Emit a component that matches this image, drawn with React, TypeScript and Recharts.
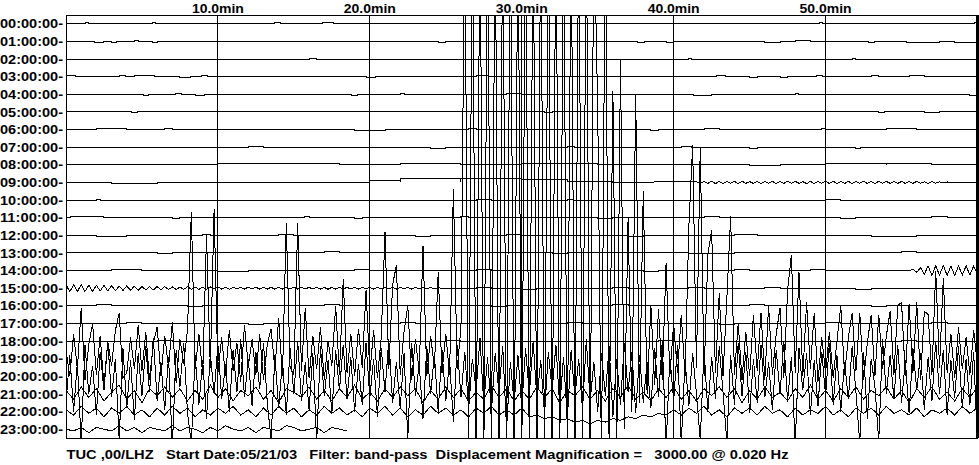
import { LineChart, Line, XAxis, YAxis, CartesianGrid, ReferenceLine } from 'recharts';

type Blip = [number, number, number]; // start min, end min, offset
type Wave = { start: number; step: number; values: number[] };

// one amplitude unit = a tenth of the spacing between two hour rows
const AMP = 0.1;

const hourLabels = [
  '00:00:00', '01:00:00', '02:00:00', '03:00:00', '04:00:00', '05:00:00',
  '06:00:00', '07:00:00', '08:00:00', '09:00:00', '10:00:00', '11:00:00',
  '12:00:00', '13:00:00', '14:00:00', '15:00:00', '16:00:00', '17:00:00',
  '18:00:00', '19:00:00', '20:00:00', '21:00:00', '22:00:00', '23:00:00',
];
const minuteTicks = [10, 20, 30, 40, 50];
const minuteLabels = ['10.0min', '20.0min', '30.0min', '40.0min', '50.0min'];
const footer = 'TUC ,00/LHZ   Start Date:05/21/03   Filter: band-pass  Displacement Magnification =   3000.00 @ 0.020 Hz';

// quiet hours: small steps off the baseline
const row00: Blip[] = [[1.3, 1.5, 0.6], [5.7, 5.9, 0.6], [13.7, 14.1, 0.6], [16.9, 17.6, 0.8], [49.6, 49.8, 0.6], [59.8, 60, 1]];
const row01: Blip[] = [[1.9, 2.5, -0.6], [3, 3.3, -0.5], [4.5, 4.8, 0.5], [5.7, 6, -0.5], [24.5, 25, -0.5], [37.6, 38.1, -0.6], [39.5, 40, -0.5], [46, 47, -0.5], [48, 49, 0.5], [52.8, 53.2, -0.6], [55.3, 57.5, -0.6], [58.5, 60, -0.5]];
const row02: Blip[] = [[3.2, 3.4, -0.5], [16, 16.5, 0.5], [41, 41.2, 0.5], [51.8, 52, 0.5]];
const row03: Blip[] = [[0, 0.6, 0.6], [3.5, 3.9, 0.5], [4.5, 5.8, 0.6], [7.5, 8.2, -0.5], [8.9, 9.3, 0.6], [19.8, 20.4, -0.6], [27, 27.8, 0.6], [42.8, 43.4, 0.5], [45, 45.5, -0.5], [47, 47.5, -0.5], [49.4, 49.8, 0.6], [53, 53.5, 0.5], [55.5, 56.5, 0.6]];
const row04: Blip[] = [[5.1, 5.4, -0.6], [7.2, 7.6, 0.5], [8.5, 9.1, -0.6], [18.8, 19.2, -0.6], [22, 22.3, 0.5], [29, 30, 0.5], [41.3, 42.5, -0.5], [48, 48.2, 0.6], [59.5, 60, -0.8]];
const row05: Blip[] = [[4.3, 4.7, -0.6], [7.5, 8, 0.5], [18, 18.5, 0.5], [31.5, 32, -0.5], [53.5, 53.9, -0.5], [56.5, 57.5, -0.6], [58.5, 59, 0.5]];
const row06: Blip[] = [[2, 4, 0.5], [6.5, 7, 0.5], [19, 21, -0.5], [26.5, 27, 0.5], [38.5, 39, -0.6], [42, 43, 0.5], [49.7, 50, 0.6], [54, 56, 0.5]];
const row07: Blip[] = [[12, 13, 0.5], [24, 25, -0.5], [33, 33.5, 0.6], [40.5, 41.2, 0.6], [45, 45.5, -0.5], [52, 52.3, -0.5]];
const row08: Blip[] = [[0, 2, 0.4], [10, 18, 0.5], [22, 26, 0.8], [30, 35, 0.5], [45, 47, -0.5], [50, 54, 0.8], [54, 57, 0.6], [57, 60, 0.3]];
const row09: Blip[] = [[3, 6, -0.5], [20, 22, 1], [22, 26, 2], [26, 30, 2.5], [30, 33, 1.5], [33, 36, 0.8]];
const row10: Blip[] = [[2, 2.3, 0.5], [14, 14.3, -0.5], [27, 28, 0.5], [33, 33.4, 0.6], [42, 42.4, -0.5], [50, 51, 0.5]];
const row11: Blip[] = [[0.3, 2.5, 0.5], [7, 7.5, -0.5], [15.7, 16, 0.6], [19, 19.5, -0.6], [26, 26.5, 0.6], [35, 36, -0.5], [42, 43, 0.5], [51, 52, -0.5], [57, 58, 0.5]];
const row12: Blip[] = [[2, 4, -0.5], [9, 9.5, 0.6], [14, 15, 0.5], [23, 24, -0.5], [29, 30, 0.5], [37, 38, -0.6], [44, 45.5, 0.5], [53, 56, -0.5]];
const row13: Blip[] = [[1, 3, 0.5], [6, 7, -0.5], [11, 12, 0.5], [17, 18, 0.6], [24, 25, 0.5], [32, 33, -0.5], [41, 44, -0.5], [46, 48, 0.5], [55, 56, 0.6], [58, 60, 0.5]];
const row14: Blip[] = [[3, 5, 0.5], [10, 12, -0.5], [19, 20, 0.5], [27, 28, 0.5], [38, 39, -0.5], [44, 45, 0.5], [49, 50, 0.6]];
const row15: Blip[] = [[27, 28, 0.5], [30, 31, -0.5], [36, 37, 0.5], [41, 42, 0.6], [46, 47, 0.5], [52, 53, -0.5]];
const row16: Blip[] = [[2, 3, 0.5], [8, 9, -0.5], [17, 18, 0.5], [28, 29, -0.5], [36, 37, 0.5], [45, 46, 0.5], [53, 54, -0.5]];
const row17: Blip[] = [[4, 5, 0.5], [12, 13, -0.5], [22, 23, 0.5], [33, 34, 0.5], [43, 44, -0.5], [50, 51, 0.5], [57, 58, 0.5]];
const row18: Blip[] = [[6, 7, 0.5], [15, 16, -0.5], [25, 26, 0.5], [39, 40, 0.5], [48, 49, -0.5], [55, 56, 0.5]];

// long-period wiggles on the quiet hours
const row09Wave = [0.5, -0.6, 0.6, -0.5, 0.7, -0.6, 0.5, -0.7, 0.6, -0.5, 0.6, -0.6, 0.7, -0.5, 0.5, -0.6, 0.6, -0.7, 0.5, -0.5, 0.6, -0.6, 0.5, -0.6, 0.7, -0.5, 0.6, -0.5, 0.5, -0.7, 0.6, -0.6, 0.5, -0.5, 0.7, -0.6, 0.6, -0.5, 0.5, -0.6, 0.6, -0.7, 0.5, -0.5, 0.6, -0.6, 0.5, -0.6, 0.7, -0.5, 0.6, -0.5, 0.5, -0.6, 0.6, -0.6, 0.5, -0.5, 0.6, -0.5, 0.4, -0.5, 0.4, -0.4, 0.4, -0.3, 0.3, -0.3, 0.2, -0.2, 0];
const row14Wave = [0, 0.8, -1, 1.6, -2, 2.6, -2.8, 2.7, -2.6, 2.8, -2.7, 2.5, -2.8, 2.6, -2.4, 2.7, -2.5, 2.6, -2.2];
const row15Wave = [
  2, -2, 1.9, -1.9, 2, -1.8, 1.7, -1.8, 1.6, -1.6, 1.6, -1.5, 1.4, -1.5, 1.3, -1.3, 1.3, -1.2, 1.1, -1.2,
  1, -1, 0.9, -1, 0.9, -0.8, 0.9, -0.8, 0.8, -0.8, 0.7, -0.7, 0.8, -0.6, 0.7, -0.7, 0.6, -0.6, 0.7, -0.5, 0.6,
  -0.5, 0.5, -0.6, 0.5, -0.5, 0.5, -0.5, 0.6, -0.5, 0.5, -0.5, 0.5, -0.5, 0.5, -0.6, 0.5, -0.5, 0.5, -0.5, 0.6,
  -0.5, 0.5, -0.5, 0.5, -0.5, 0.5, -0.5, 0.5, -0.6, 0.5, -0.5, 0.5, -0.5, 0.5, -0.5, 0.6, -0.5, 0.5, -0.5, 0.5,
  -0.5, 0.5, -0.5, 0.5, -0.5, 0.5, -0.5, 0.5, -0.5, 0.5, -0.5, 0.5, -0.5, 0.5, -0.5, 0.4, -0.4, 0.4, -0.3, 0,
];

// event hours, every 0.25 min
const row19Trace = [
  5, -10, 14, -6, 29, -12, 8, 20, -9, 13, -15, 10, -4, 16, 26, -11, -8, 12, -6, 19,
  -7, 15, -12, 9, 18, -10, 13, -5, 21, -14, 11, -3, 17, 83, -6, 14, -9, 70, -5, 85,
  -8, 12, -10, 16, -7, 9, -13, 19, -4, 11, -9, 14, -12, 8, 17, -6, 23, -10, 77, -5,
  -9, 77, -7, 29, -11, 13, -6, 18, -12, 10, -4, 30, -9, 45, -8, 14, -10, 17, -5, 39,
  -8, 16, -11, 12, 72, -6, 42, 53, -9, 15, 30, -12, 11, -7, 64, -10, 13, -5, 49, -8,
  14, -9, 96, -6, 18, 250, -60, 250, -60, 250, -60, 250, -60, 250, -60, 250, -60, 250, -60, 250,
  -60, 250, -60, 250, -60, 250, -60, 250, -60, 250, -60, 250, -60, 250, -60, 250, -60, 250, -60, 250,
  142, -60, 250, -50, 152, -55, 170, -40, 80, -30, 150, -25, 95, -20, 30, -15, 28, -12, 54, -10,
  20, -8, 25, -10, 75, 121, -5, 120, -10, 59, 73, -8, 37, -10, 34, 81, -9, 20, -12, 15,
  -10, 25, -7, 26, -12, 30, -9, 14, 29, -11, 39, 59, -8, 49, -10, 32, -6, 26, -13, 12,
  -8, 15, -11, 10, 30, -9, 12, 26, -7, 26, -12, 9, 25, -10, 25, -6, 13, 27, -9, 30,
  32, -10, 31, -8, 32, -12, 27, 25, -9, 50, -5, 46, -8, 14, -11, 18, -6, 12, -9, 16, -4,
];
const row20Trace = [
  -15, 12, -20, 8, -38, 18, -10, 6, -22, 14, -8, 20, -12, 10, -36, 16, -18, 9, -25, 13,
  -11, 17, -9, 22, -14, 8, -19, 11, -40, 15, -6, 19, -21, -38, 12, -16, 9, -24, 13, -10,
  18, -13, 7, -20, 15, -9, 21, -12, 10, -17, 14, -7, 19, -15, -36, 12, -18, 9, -22, 16,
  -10, 20, -14, 8, -19, 13, -38, 17, -11, 9, -21, 15, -8, 18, -13, 11, -20, 7, -16, 19,
  -12, 10, -23, 16, -9, 21, -15, 8, -18, 13, -35, 19, -11, 7, -24, 17, -10, 12, -20, 15,
  -14, 9, -26, 18, -12, 14, -19, 10, -8, 22, -16, 11, -21, 13, -9, 17, -30, 8, -15, 12,
  -18, 16, -10, 20, -13, 9, -22, 14, -8, 18, -17, 11, -25, 15, -12, 10, -19, 21, -14, 8,
  -20, 13, -11, 17, -23, 10, -16, 19, -9, 14, -21, 12, -15, 8, -18, 16, -12, 20, -40, 11,
  -14, 18, -38, 9, -17, 13, -10, -36, 15, -20, 11, -13, 17, -9, -37, 12, -16, 19, -11, 14,
  -21, 10, -15, 18, -12, 8, -19, 15, -10, 20, -14, 11, -39, 16, -8, 13, -22, 9, -17, 14,
  -11, 19, -16, 12, -20, 8, -13, 17, -9, -38, 14, -24, 10, -6, -37, 21, -10, 12, -13, 18,
  -15, 9, -21, 16, -8, 13, -19, 11, -14, 20, -10, 15, -22, 9, -12, 17, -18, 10, -16, 14, -40,
];
// calmer late hours, every 0.5 min
const row21Trace = [
  2, -3, 4, -2, 3, -4, 1, 5, -3, 2, -5, 3, -1, 4, -2, 3, -4, 2, -3, 5, -2,
  3, -4, 2, -1, 4, -3, 2, -5, 3, 1, -2, 4, -3, 2, -4, 3, -2, 5, -3, 1,
  -4, 3, -2, 4, -1, 3, -5, 2, -3, 4, -2, 3, -4, 1, -3, 5, -2, 3, -4, 2,
  -3, 4, -2, 3, -5, 2, -1, 4, -3, 2, -4, 3, -2, 5, -3, 1, -4, 3, -2, 4,
  -3, 2, -4, 3, -1, 4, -2, 3, -5, 2, -3, 4, -2, 1, -4, 3, -2, 5, -3, 2,
  -4, 3, -2, 4, -3, 2, -1, 4, -3, 2, -5, 3, -2, 4, -3, 1, -4, 3, -2, 4,
];
const row22Trace = [
  1, -2, 3, -1, 2, -3, 2, -1, 3, -2, 1, -3, 2, -2, 3, -1, 2, -3, 1, -2, 2,
  -1, 3, -2, 1, -3, 2, -2, 3, -1, 2, -3, 1, -2, 3, -1, 2, -2, 1, -3, 2,
  -1, 3, -2, 2, -3, 1, -2, 3, -1, 2, -2, 1, -3, 2, -1, 3, -2, 1, -2, 2,
  -3, -2, -4, -3, -5, -4, -6, -5, -7, -5, -6, -4, -5, -3, -4, -2, -3, -1, -2, 1,
  -2, 2, -1, 3, -2, 1, -3, 2, -1, 2, -2, 3, -1, 1, -3, 2, -2, 1, -1, 3,
  -2, 1, -3, 2, -1, 2, -2, 3, -1, 1, -2, 2, -3, 1, -1, 2, -2, 3, -1, 2,
];
const row23Trace = [0, -1, 1, -2, 1, 0, -1, 2, -1, 1, -2, 1, 0, -1, 2, -1, 1, 0, -2, 1, -1, 2, 0, -1, 1, -2, 1, 0, -1, 2, 1, -1, 0, 1, -2, 1, 0, -1];

const quietRows: Blip[][] = [row00, row01, row02, row03, row04, row05, row06, row07, row08, row09, row10, row11, row12, row13, row14, row15, row16, row17, row18];
const waves: Record<number, Wave> = {
  9: { start: 41.5, step: 0.25, values: row09Wave },
  14: { start: 55.5, step: 0.25, values: row14Wave },
  15: { start: 0, step: 0.25, values: row15Wave },
  19: { start: 0, step: 0.25, values: row19Trace },
  20: { start: 0, step: 0.25, values: row20Trace },
  21: { start: 0, step: 0.5, values: row21Trace },
  22: { start: 0, step: 0.5, values: row22Trace },
  23: { start: 0, step: 0.5, values: row23Trace },
};

function buildRow(row: number, blips: Blip[], wave?: Wave) {
  const pts: [number, number][] = [];
  if (blips.length) {
    if (!wave || wave.start > 0) pts.push([0, 0]);
    blips.forEach(([a, b, o]) => pts.push([a, 0], [a, o], [b, o], [b, 0]));
    const waveEnd = wave ? wave.start + (wave.values.length - 1) * wave.step : 0;
    if (!wave || waveEnd < 60) pts.push([60, 0]);
  }
  if (wave) wave.values.forEach((v, i) => pts.push([wave.start + i * wave.step, v]));
  pts.sort((p, q) => p[0] - q[0]);
  return pts.map(([t, a]) => ({ t, v: -row + a * AMP }));
}

const rows = hourLabels.map((_, r) => buildRow(r, quietRows[r] ?? [], waves[r]));
const hourTicks = hourLabels.map((_, r) => -r);

const FONT = '"Liberation Sans", Arial, sans-serif';

function HourTick({ y, payload }: any) {
  const label = hourLabels[Math.round(-payload.value)];
  return (
    <text x={0} y={y + 4.6} textLength={63} lengthAdjust="spacingAndGlyphs" fontFamily={FONT} fontWeight="bold" fontSize={13} fill="#000">
      {label}-
    </text>
  );
}

function MinuteTick({ x, payload }: any) {
  const label = minuteLabels[minuteTicks.indexOf(payload.value)];
  return (
    <text x={x} y={12.7} textAnchor="middle" textLength={52} lengthAdjust="spacingAndGlyphs" fontFamily={FONT} fontWeight="bold" fontSize={13} fill="#000">
      {label}
    </text>
  );
}

export default function App() {
  return (
    <div style={{ position: 'absolute', left: 0, top: 0, width: 979, height: 465, background: '#fff', shapeRendering: 'crispEdges' }}>
      <LineChart width={979} height={465} margin={{ top: 0, right: 1.5, bottom: 27, left: 0 }}>
        <CartesianGrid horizontal={false} stroke="#000" />
        <XAxis type="number" dataKey="t" domain={[0, 60]} ticks={minuteTicks} orientation="top" height={15} axisLine={false} tickLine={false} tick={MinuteTick} interval={0} allowDataOverflow />
        <YAxis type="number" domain={[-23.5, 0.5]} ticks={hourTicks} width={66} axisLine={false} tickLine={false} tick={HourTick} interval={0} allowDataOverflow />
        {rows.map((d, i) => (
          <Line key={i} data={d} dataKey="v" type="linear" stroke="#000" strokeWidth={1} dot={false} activeDot={false} isAnimationActive={false} />
        ))}
        <ReferenceLine x={0} stroke="#000" ifOverflow="visible" />
        <ReferenceLine y={0.5} stroke="#000" ifOverflow="visible" />
        <ReferenceLine y={-23.5} stroke="#000" ifOverflow="visible" />
        <ReferenceLine x={60} stroke="#000" strokeWidth={3} ifOverflow="visible" />
      </LineChart>
      <svg width={979} height={465} style={{ position: 'absolute', left: 0, top: 0, pointerEvents: 'none' }}>
        <text x={66.5} y={459} textLength={722} lengthAdjust="spacingAndGlyphs" fontFamily={FONT} fontWeight="bold" fontSize={13} fill="#000" style={{ whiteSpace: 'pre' }}>
          {footer}
        </text>
      </svg>
    </div>
  );
}
